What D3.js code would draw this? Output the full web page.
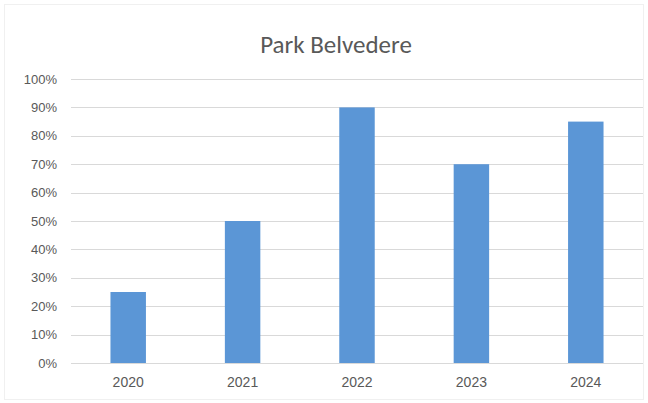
<!DOCTYPE html>
<html>
<head>
<meta charset="utf-8">
<script src="https://cdn.jsdelivr.net/npm/d3@7/dist/d3.min.js"></script>
<style>
  html, body { margin: 0; padding: 0; background: #fff; }
  svg { display: block; font-family: Calibri, Carlito, Lato, "Open Sans", sans-serif; }
</style>
</head>
<body>
<svg id="chart" width="648" height="403"></svg>
<script>
// Occupancy share per year
const years = ["2020", "2021", "2022", "2023", "2024"];
const shares = [0.25, 0.50, 0.90, 0.70, 0.85];
const yTicks = [0, 0.1, 0.2, 0.3, 0.4, 0.5, 0.6, 0.7, 0.8, 0.9, 1.0];
const title = "Park Belvedere";

const svg = d3.select("#chart");
const W = 648, H = 403;
const margin = { left: 71, right: 5, top: 79, bottom: 40 };

// faint chart-area frame
svg.append("rect")
  .attr("x", 4.5).attr("y", 4.5)
  .attr("width", W - 9).attr("height", H - 8)
  .attr("fill", "#fff")
  .attr("stroke", "#f0f0f0");

const x = d3.scaleBand()
  .domain(years)
  .range([margin.left, W - margin.right])
  .paddingInner(0.69)
  .paddingOuter(0.345);

const y = d3.scaleLinear()
  .domain([0, 1])
  .range([H - margin.bottom, margin.top]);

// horizontal gridlines
svg.append("g")
  .selectAll("line")
  .data(yTicks)
  .join("line")
  .attr("x1", margin.left)
  .attr("x2", W - margin.right)
  .attr("y1", d => Math.round(y(d)) + 0.5)
  .attr("y2", d => Math.round(y(d)) + 0.5)
  .attr("stroke", "#d9d9d9")
  .attr("stroke-width", 1);

// y axis labels
const yAxis = d3.axisLeft(y)
  .tickValues(yTicks)
  .tickFormat(d3.format(".0%"))
  .tickSize(0)
  .tickPadding(14);
const gy = svg.append("g")
  .attr("transform", `translate(${margin.left},0)`)
  .call(yAxis);
gy.select(".domain").remove();
gy.selectAll("text")
  .attr("fill", "#595959")
  .style("font-size", "13px");

// bars
svg.append("g")
  .selectAll("rect")
  .data(years.map((yr, i) => ({ yr, v: shares[i] })))
  .join("rect")
  .attr("x", d => x(d.yr))
  .attr("width", x.bandwidth())
  .attr("y", d => y(d.v))
  .attr("height", d => y(0) - y(d.v))
  .attr("fill", "#5b96d6");

// x axis labels
const xAxis = d3.axisBottom(x).tickSize(0).tickPadding(14);
const gx = svg.append("g")
  .attr("transform", `translate(0,${y(0)})`)
  .call(xAxis);
gx.select(".domain").remove();
gx.selectAll("text")
  .attr("fill", "#595959")
  .style("font-size", "14px");

// title
svg.append("text")
  .attr("x", 336)
  .attr("y", 53)
  .attr("text-anchor", "middle")
  .attr("fill", "#595959")
  .style("font-size", "25px")
  .text(title);
</script>
</body>
</html>
